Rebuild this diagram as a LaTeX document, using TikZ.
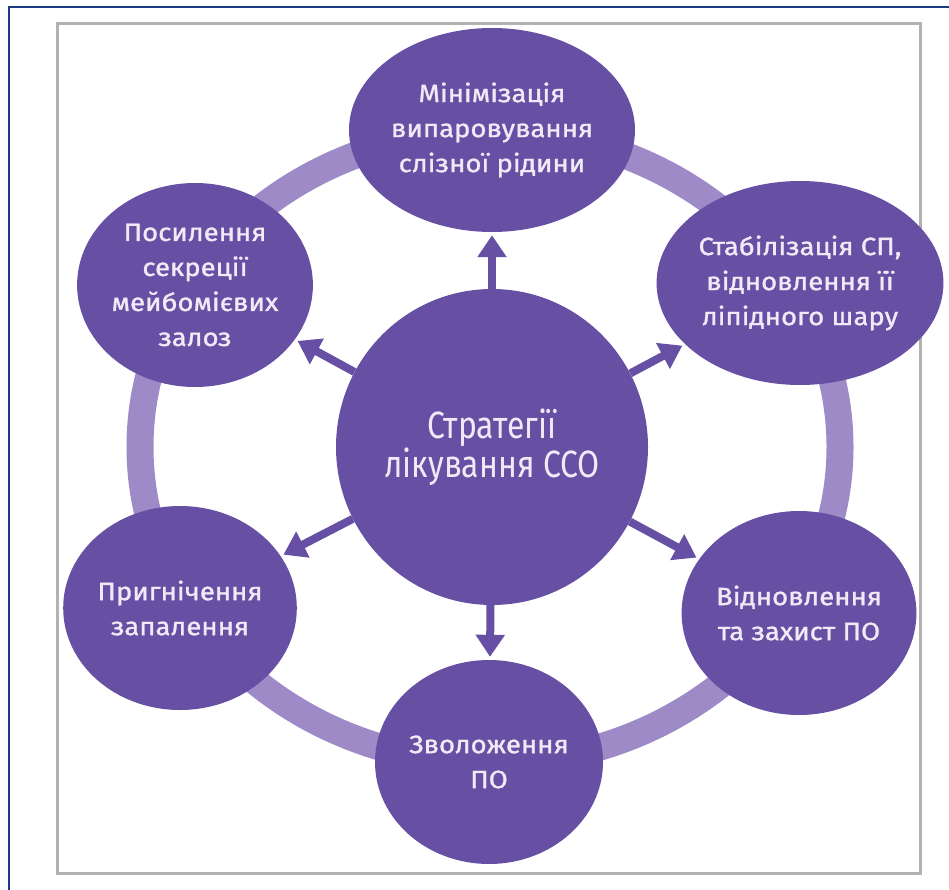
\documentclass[tikz,border=0pt]{standalone}
\usepackage{fontspec}
\setmainfont{Fira Sans}
\newfontfamily\goalfont{Fira Sans}[FakeStretch=1.1,FakeBold=1.2]
\newfontfamily\ctrfont{Fira Sans}[FakeStretch=0.84]
\usetikzlibrary{shapes.geometric,arrows.meta}
\definecolor{goalfill}{RGB}{103,80,164}
\definecolor{ringfill}{RGB}{158,138,199}
\definecolor{goaltext}{RGB}{240,234,247}
\definecolor{framegray}{RGB}{178,178,178}
\definecolor{pageblue}{RGB}{28,58,128}

\begin{document}
\begin{tikzpicture}[x=1pt,y=-1pt,
  goal/.style={ellipse,fill=goalfill,text=goaltext,inner sep=0pt,align=center,
    minimum width=228pt,minimum height=204pt,font=\goalfont\fontsize{25}{35}\selectfont},
  push/.style={draw=goalfill,line width=8pt,-{Triangle[width=28pt,length=22pt]},shorten >=3pt}]
 \useasboundingbox (0,0) rectangle (949,890);
 %\draw[step=50, gray, very thin] (0,0) grid (949,890);
 \draw[pageblue,line width=2pt] (9,890) -- (9,7) -- (949,7);
 \draw[framegray,line width=3pt] (57,24) rectangle (920,873);

 % ring behind the goals
 \draw[ringfill,line width=27pt] (490,447) ellipse [x radius=350, y radius=316];

 \node[goal] (vapour) at (492,130) {Мінімізація\\випаровування\\слізної рідини};
 \node[goal] (lipid) at (800,283) {Стабілізація СП,\\відновлення її\\ліпідного шару};
 \node[goal] (repair) at (799,613) {Відновлення\\та захист ПО};
 \node[goal] (moist) at (489,762) {Зволоження\\ПО};
 \node[goal] (inflam) at (180,608) {Пригнічення\\запалення};
 \node[goal] (meibom) at (195,285) {Посилення\\секреції\\мейбомієвих\\залоз};

 \node[goal,minimum width=312pt,minimum height=316pt,font=\ctrfont\fontsize{38}{39}\selectfont]
   (strat) at (492,447) {Стратегії\\лікування ССО};

 \draw[push] (strat) -- (vapour);
 \draw[push] (strat) -- (lipid);
 \draw[push] (strat) -- (repair);
 \draw[push] (strat) -- (moist);
 \draw[push] (strat) -- (inflam);
 \draw[push] (strat) -- (meibom);
\end{tikzpicture}
\end{document}
